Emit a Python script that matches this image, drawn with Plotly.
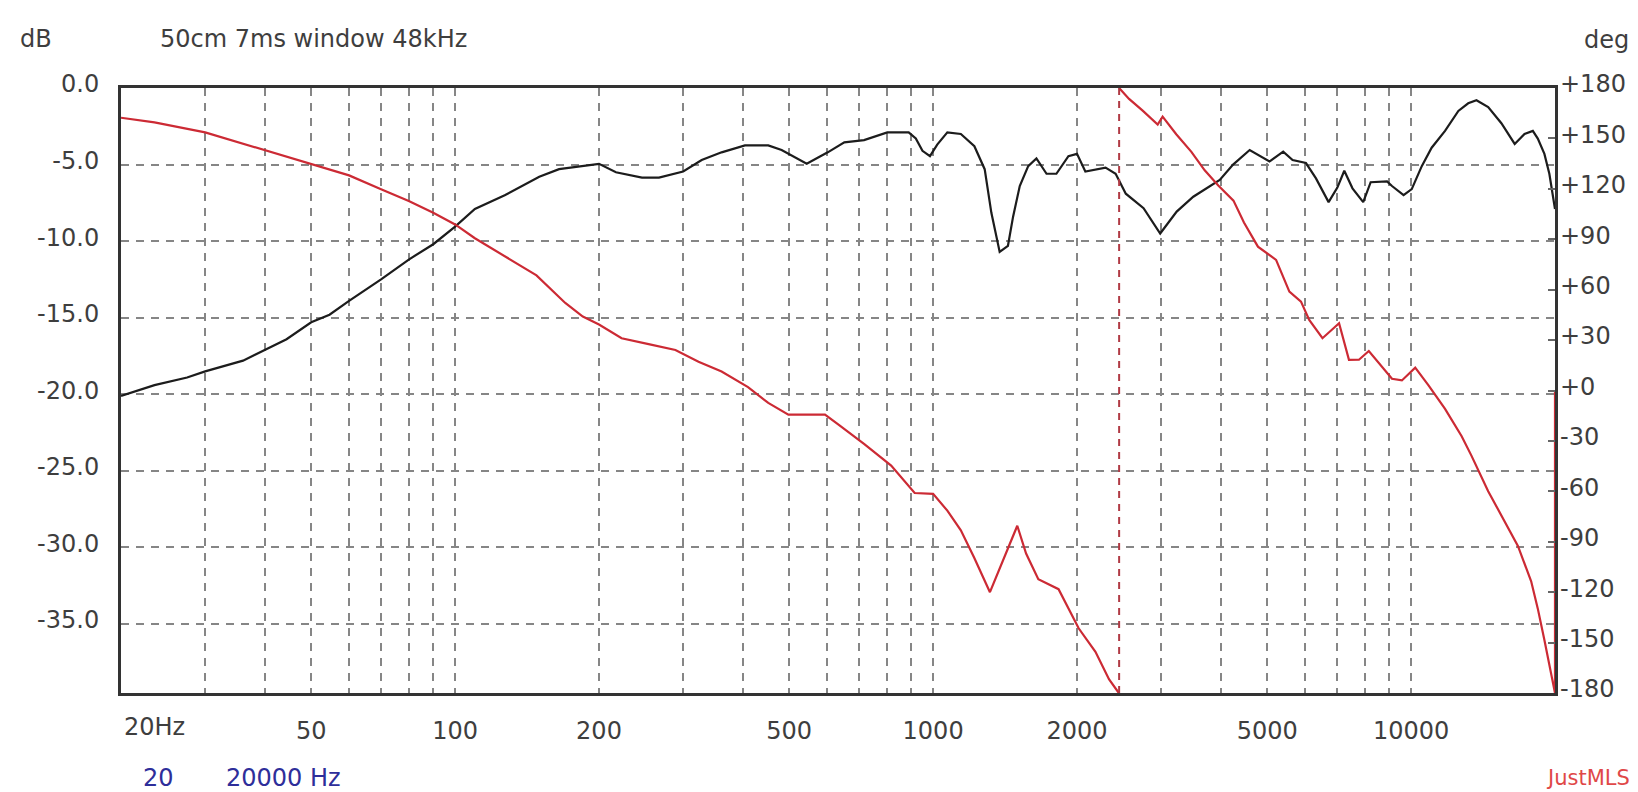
import math
import plotly.graph_objects as go

# ---------------- data ----------------
MAG_FREQ = [20, 23.5, 27.5, 30, 36, 40, 44.4, 50, 54.6, 60, 70, 80, 90, 100, 110, 127, 140, 150, 165, 182,
            200, 217, 246, 267, 300, 328, 361, 404, 452, 482, 544, 602, 652, 717, 802, 889, 920, 950, 985, 1020,
            1071, 1143, 1220, 1282, 1324, 1378, 1434, 1470, 1518, 1581, 1645, 1727, 1811, 1919, 2000, 2082, 2295,
            2409, 2530, 2756, 2986, 3233, 3502, 3978, 4242, 4595, 5055, 5400, 5650, 6026, 6324, 6720, 7010, 7248,
            7540, 7940, 8230, 8905, 9120, 9644, 10030, 10527, 11040, 11776, 12556, 13166, 13700, 14496, 15446,
            16470, 17270, 17975, 18410, 19004, 19463, 20000]
MAG_DB = [-20.1, -19.4, -18.9, -18.5, -17.8, -17.1, -16.4, -15.3, -14.8, -13.9, -12.5, -11.2, -10.2, -9.05, -7.9,
          -7.0, -6.3, -5.8, -5.3, -5.1, -4.95, -5.5, -5.85, -5.85, -5.45, -4.7, -4.2, -3.75, -3.75, -4.05, -4.95,
          -4.2, -3.55, -3.4, -2.9, -2.9, -3.3, -4.1, -4.45, -3.7, -2.9, -3.0, -3.8, -5.3, -8.15, -10.7, -10.3, -8.4,
          -6.4, -5.1, -4.6, -5.6, -5.6, -4.45, -4.3, -5.45, -5.2, -5.6, -6.9, -7.85, -9.5, -8.07, -7.1, -6.0, -5.0,
          -4.05, -4.8, -4.15, -4.7, -4.9, -5.9, -7.45, -6.5, -5.4, -6.55, -7.45, -6.15, -6.1, -6.4, -7.0, -6.6,
          -5.1, -3.9, -2.8, -1.5, -1.0, -0.8, -1.25, -2.3, -3.65, -3.0, -2.8, -3.3, -4.3, -5.6, -7.9]

# phase, first branch (before the wrap)
PH1_FREQ = [20, 23.5, 30, 40, 50, 60, 70, 80, 90, 100, 110, 122, 134, 148, 170, 185, 200, 223, 254, 289, 323,
            361, 410, 452, 498, 594, 633, 718, 817, 915, 1000, 1071, 1143, 1219, 1315, 1400, 1500, 1565, 1660,
            1830, 1920, 2016, 2186, 2333, 2446]
PH1_DEG = [162.3, 159.5, 153.6, 143.1, 135.0, 128.0, 119.8, 112.8, 105.8, 98.8, 90.6, 83.0, 76.0, 68.5, 52.1,
           44.0, 39.3, 31.1, 27.6, 24.1, 17.1, 11.3, 2.0, -7.4, -14.4, -14.4, -20.2, -31.9, -44.7, -61.0, -61.5,
           -71.5, -83.2, -99.5, -120.0, -101.0, -80.5, -97.0, -112.3, -118.2, -129.8, -141.5, -155.5, -171.8, -180]

# phase, second branch (after the wrap)
PH2_FREQ = [2450, 2570, 2744, 2950, 3021, 3226, 3470, 3700, 3950, 4250, 4470, 4630, 4781, 5218, 5563, 5884, 6121,
            6525, 7068, 7413, 7778, 8157, 9120, 9566, 10200, 10875, 11776, 12757, 13379, 14496, 15700, 16727,
            17830, 18410, 19004, 19780, 20000, 20000]
PH2_DEG = [180, 173.5, 166.5, 158.3, 163, 152.5, 142, 131, 122, 113, 100, 92.5, 85.6, 77.7, 58.8, 52.9, 42.0,
           31.1, 40.0, 18.2, 18.3, 23.5, 7.0, 6.0, 13.6, 3.1, -10.9, -27.2, -38.9, -59.9, -78.5, -92.5, -113.5,
           -129.8, -148.5, -174.2, -180, 0]

WRAP_FREQ = 2450
WRAP_DEG = [-180, 180]

TICK_FREQS = [50, 100, 200, 500, 1000, 2000, 5000, 10000]
TICK_LABELS = ["50", "100", "200", "500", "1000", "2000", "5000", "10000"]
MINOR_FREQS = [30, 40, 60, 70, 80, 90, 300, 400, 600, 700, 800, 900,
               3000, 4000, 6000, 7000, 8000, 9000]

DB_TICKS = [0, -5, -10, -15, -20, -25, -30, -35]
DB_LABELS = ["0.0", "-5.0", "-10.0", "-15.0", "-20.0", "-25.0", "-30.0", "-35.0"]
DEG_TICKS = [180, 150, 120, 90, 60, 30, 0, -30, -60, -90, -120, -150, -180]
DEG_LABELS = ["+180", "+150", "+120", "+90", "+60", "+30", "+0", "-30", "-60", "-90", "-120", "-150", "-180"]

TITLE = "50cm 7ms window 48kHz"

# ---------------- layout geometry ----------------
W, H = 1638, 792
L, R, T, B = 121, 1564, 88, 693
FONT = "DejaVu Sans"
TXT = "#3e3e3e"
GRID = "#868686"
FRAME = "#333333"


def px(xp):
    return (xp - L) / (R - L)


def py(yp):
    return (B - yp) / (B - T)


fig = go.Figure()

fig.add_trace(go.Scatter(x=MAG_FREQ, y=MAG_DB, mode="lines", yaxis="y",
                         line=dict(color="#1c1c1c", width=2.2), showlegend=False))
fig.add_trace(go.Scatter(x=PH1_FREQ, y=PH1_DEG, mode="lines", yaxis="y2",
                         line=dict(color="#cc2a34", width=2.2), showlegend=False))
fig.add_trace(go.Scatter(x=PH2_FREQ, y=PH2_DEG, mode="lines", yaxis="y2",
                         line=dict(color="#cc2a34", width=2.2), showlegend=False))
fig.add_trace(go.Scatter(x=[WRAP_FREQ, WRAP_FREQ], y=WRAP_DEG, mode="lines", yaxis="y2",
                         line=dict(color="#b03a44", width=2, dash="7px,6px"), showlegend=False))

fig.update_layout(
    width=W, height=H,
    margin=dict(l=L, r=W - R, t=T, b=H - B, pad=0),
    paper_bgcolor="white", plot_bgcolor="white",
    font=dict(family=FONT, size=24, color=TXT),
    xaxis=dict(
        type="log", range=[math.log10(20), math.log10(20000)],
        tickmode="array", tickvals=TICK_FREQS, ticktext=TICK_LABELS,
        showgrid=True, gridcolor=GRID, gridwidth=1.5, griddash="8px,7px",
        minor=dict(tickmode="array", tickvals=MINOR_FREQS, showgrid=True,
                   gridcolor=GRID, gridwidth=1.5, griddash="8px,7px", ticks=""),
        ticks="", ticklabelstandoff=14,
        showline=True, mirror=True, linecolor=FRAME, linewidth=3,
        zeroline=False, tickfont=dict(family=FONT, size=24, color=TXT),
    ),
    yaxis=dict(
        range=[-39.5, 0], tickmode="array", tickvals=DB_TICKS, ticktext=DB_LABELS,
        showgrid=True, gridcolor=GRID, gridwidth=1.5, griddash="8px,7px",
        ticks="", ticklabelstandoff=14, ticklabelshift=-4,
        showline=True, mirror=True, linecolor=FRAME, linewidth=3,
        zeroline=False, tickfont=dict(family=FONT, size=24, color=TXT),
    ),
    yaxis2=dict(
        range=[-180, 180], overlaying="y", side="right",
        tickmode="array", tickvals=DEG_TICKS, ticktext=DEG_LABELS,
        showgrid=False, zeroline=False, showline=False,
        ticks="inside", ticklen=7, tickwidth=1.5, tickcolor="#666666",
        ticklabelstandoff=4, ticklabelshift=-4,
        tickfont=dict(family=FONT, size=24, color=TXT),
    ),
    annotations=[
        dict(text="dB", xref="paper", yref="paper", x=px(17), y=py(39), xanchor="left", yanchor="middle",
             showarrow=False, font=dict(family=FONT, size=24, color=TXT)),
        dict(text=TITLE, xref="paper", yref="paper", x=px(158), y=py(39), xanchor="left", yanchor="middle",
             showarrow=False, font=dict(family=FONT, size=24, color=TXT)),
        dict(text="deg", xref="paper", yref="paper", x=px(1640), y=py(40), xanchor="right", yanchor="middle",
             showarrow=False, font=dict(family=FONT, size=24, color=TXT)),
        dict(text="20Hz", xref="paper", yref="paper", x=px(122), y=py(727), xanchor="left", yanchor="middle",
             showarrow=False, font=dict(family=FONT, size=24, color=TXT)),
        dict(text="20", xref="paper", yref="paper", x=px(141), y=py(778), xanchor="left", yanchor="middle",
             showarrow=False, font=dict(family=FONT, size=24, color="#2e2e9a")),
        dict(text="20000 Hz", xref="paper", yref="paper", x=px(225), y=py(778), xanchor="left", yanchor="middle",
             showarrow=False, font=dict(family=FONT, size=24, color="#2e2e9a")),
        dict(text="JustMLS", xref="paper", yref="paper", x=px(1641), y=py(778), xanchor="right", yanchor="middle",
             showarrow=False, font=dict(family=FONT, size=21, color="#e04848")),
    ],
)

fig.write_html("out.html")
